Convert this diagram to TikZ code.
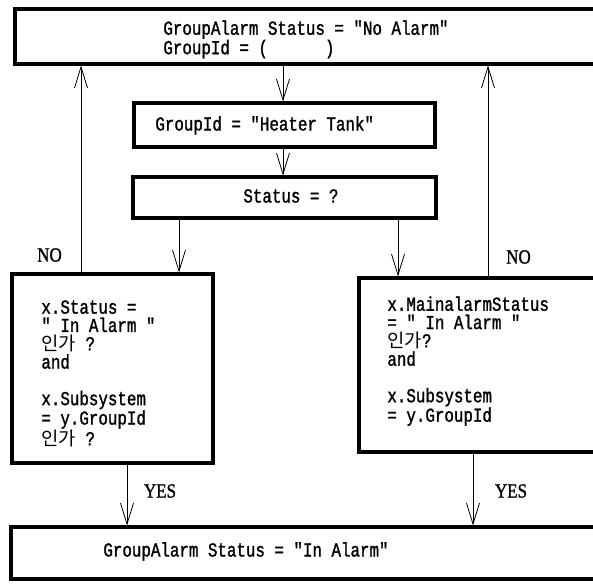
\documentclass[tikz,border=0pt]{standalone}
\usepackage{fontspec}
\setmainfont{Liberation Serif}
\newfontfamily\codefont[FakeStretch=0.8,FakeBold=1.3]{Liberation Mono}
\newfontfamily\hangul[Scale=0.95]{Noto Sans CJK KR}
\newfontfamily\labelfont[FakeStretch=0.85,FakeBold=1.2]{Liberation Serif}
\usetikzlibrary{arrows.meta}

\tikzset{every picture/.style={line width=0.8pt}}
\tikzset{
  blk/.style={draw, line width=3.2pt, rectangle, inner sep=0pt},
  flow/.style={-{Straight Barb[length=21pt,width=13pt,line width=0.8pt]}},
  code/.style={inner sep=0pt, align=left, font=\codefont\fontsize{19.8}{18.3}\selectfont},
  yesno/.style={inner sep=0pt, font=\labelfont\fontsize{20}{20}\selectfont}
}

\begin{document}
\begin{tikzpicture}[x=1pt,y=1pt,yscale=-1]
\useasboundingbox (0,0) rectangle (593,583);
\clip (0,0) rectangle (593,583);

%Boxes
\node[blk, minimum width=586, minimum height=55] (noalarm) at (308,36.5) {};
\node[blk, minimum width=301, minimum height=44] (heater) at (284.5,125) {};
\node[blk, minimum width=303, minimum height=41] (status) at (284.5,197.5) {};
\node[blk, minimum width=201, minimum height=189] (left) at (112.5,368.5) {};
\node[blk, minimum width=242, minimum height=174] (right) at (480,365) {};
\node[blk, minimum width=590, minimum height=52] (inalarm) at (306,553) {};

%Columns of the connectors
\coordinate (mid) at (283,0);
\coordinate (downl) at (179,0);
\coordinate (downr) at (398,0);
\coordinate (nol) at (81,0);
\coordinate (nor) at (488,0);
\coordinate (yesl) at (127,0);
\coordinate (yesr) at (473,0);

%Straight Lines
\draw[flow] (noalarm.south -| mid) -- (heater.north -| mid);
\draw[flow] (heater.south -| mid) -- (status.north -| mid);
\draw[flow] (status.south -| downl) -- (left.north -| downl);
\draw[flow] (status.south -| downr) -- (right.north -| downr);
\draw[flow] (left.north -| nol) -- (noalarm.south -| nol);
\draw[flow] (right.north -| nor) -- (noalarm.south -| nor);
\draw[flow] (left.south -| yesl) -- (inalarm.north -| yesl);
\draw[flow] (right.south -| yesr) -- (inalarm.north -| yesr);

% Text Node
\node[code, anchor=north west] (t1) at (163,20) {GroupAlarm Status = "No Alarm"\\GroupId = (\ \ \ \ \ \ )};
% Text Node
\node[code, anchor=base west] (t2) at (155,130.5) {GroupId = "Heater Tank"};
% Text Node
\node[code, anchor=base west] (t3) at (243,202.5) {Status = ?};
% Text Node
\node[code, anchor=north west] (t4) at (41,300) {x.Status =\\" In Alarm "\\{\hangul 인가} ?\\and\\ \mbox{}\\x.Subsystem\\= y.GroupId\\{\hangul 인가} ?};
% Text Node
\node[code, anchor=north west] (t5) at (387,296) {x.MainalarmStatus\\= " In Alarm "\\{\hangul 인가}?\\and\\ \mbox{}\\x.Subsystem\\= y.GroupId};
% Text Node
\node[code, anchor=base west] (t6) at (103,556.5) {GroupAlarm Status = "In Alarm"};
% Text Node
\node[yesno] (no1) at (49.5,255) {NO};
\node[yesno] (no2) at (518.5,257) {NO};
\node[yesno] (yes1) at (160,491) {YES};
\node[yesno] (yes2) at (511,491) {YES};

\end{tikzpicture}
\end{document}
